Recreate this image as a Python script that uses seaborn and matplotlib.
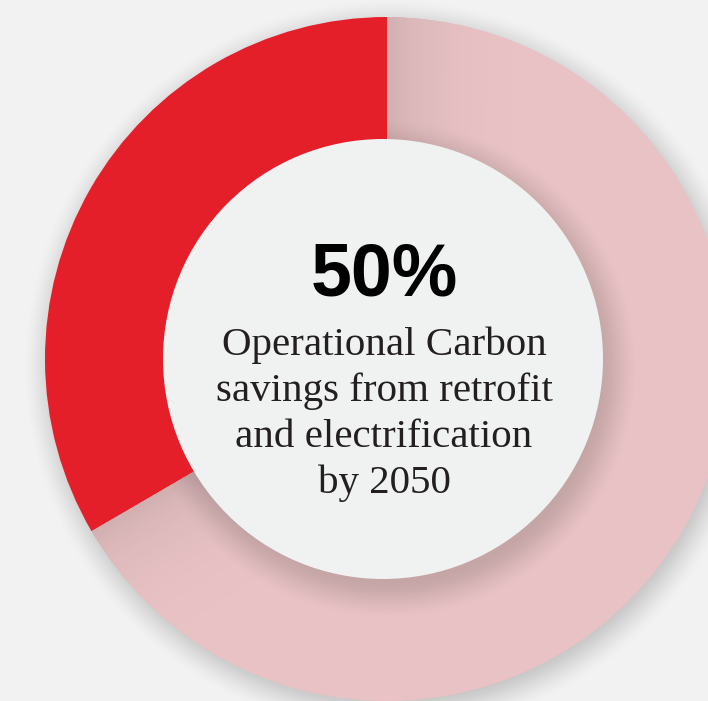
import numpy as np
import matplotlib
matplotlib.use("Agg")
import matplotlib.pyplot as plt
import seaborn as sns

# Donut data: share of the ring taken by each segment (percent)
segments = ["Retrofit & electrification", "Remaining"]
shares = [33.4, 66.6]
headline = "50%"
caption_lines = ["Operational Carbon", "savings from retrofit",
                 "and electrification", "by 2050"]

sns.set_theme(style="white")
palette = ["#e51f2a", "#e8c2c4"]

W, H = 708, 701
BG = "#f2f2f2"
fig = plt.figure(figsize=(W / 100, H / 100), dpi=100, facecolor=BG)
ax = fig.add_axes([0, 0, 1, 1])
ax.set_facecolor(BG)

# ring geometry in pixel units (y measured upward)
cx, cy, R = 387, H - 359, 342
icx, icy, r_in = 383, H - 359, 220

xs = np.arange(W) + 0.5
ys = np.arange(H) + 0.5
X, Y = np.meshgrid(xs, ys)


def smooth(t):
    t = np.clip(t, 0, 1)
    return 3 * t ** 2 - 2 * t ** 3


def overlay(alpha, zorder):
    img = np.zeros((H, W, 4))
    img[..., 3] = np.clip(alpha, 0, 1)
    ax.imshow(img, extent=(0, W, 0, H), origin="lower", zorder=zorder,
              interpolation="bilinear")


# soft drop shadow behind the whole ring
d_out = np.hypot(X - (cx + 4), Y - (cy - 7))
overlay(0.22 * (1 - smooth((d_out - (R - 22)) / 50)), 0)

wedges, _ = ax.pie(shares, colors=palette, startangle=90, counterclock=True,
                   radius=R, center=(cx, cy),
                   wedgeprops=dict(linewidth=0), frame=True)
for w in wedges:
    w.set_zorder(1)

# shading cast by the red segment onto the pale segment
d_c = np.hypot(X - cx, Y - cy)
theta = np.degrees(np.arctan2(Y - cy, X - cx)) % 360
start, end = 90.0, 90.0 + 360 * shares[0] / 100
in_red = (theta >= start) & (theta <= end)
arc_a = d_c * np.radians(start - theta)          # clockwise of the top edge
arc_b = d_c * np.radians(theta - end)            # past the lower-left edge
seg = np.zeros_like(d_c)
seg += np.where(arc_a > 0, 0.10 * np.exp(-np.clip(arc_a, 0, None) / 40), 0)
seg += np.where(arc_b > 0, 0.10 * np.exp(-np.clip(arc_b, 0, None) / 40), 0)
seg *= (d_c <= R)
overlay(seg, 2)

# shadow of the inner disc on the pale part of the ring
d_in = np.hypot(X - (icx + 5), Y - (icy - 10))
inner_sh = 0.15 * (1 - smooth((d_in - (r_in - 10)) / 42))
inner_sh *= (d_c <= R) & ~in_red
overlay(inner_sh, 3)

ax.add_patch(plt.Circle((icx, icy), r_in, color="#f0f2f2", lw=0, zorder=4))

ax.text(384, H - 295, headline, fontsize=53, fontweight="bold",
        family=["Liberation Sans", "DejaVu Sans"], ha="center",
        va="baseline", color="#000000", zorder=5)
for line, base in zip(caption_lines, [355, 401, 447, 493]):
    ax.text(384, H - base, line, fontsize=29.5,
            family=["Liberation Serif", "DejaVu Serif"], ha="center",
            va="baseline", color="#231f20", zorder=5)

ax.set_xlim(0, W)
ax.set_ylim(0, H)
ax.set_aspect("equal")
ax.axis("off")

fig.savefig("out.png", dpi=100, facecolor=BG)
